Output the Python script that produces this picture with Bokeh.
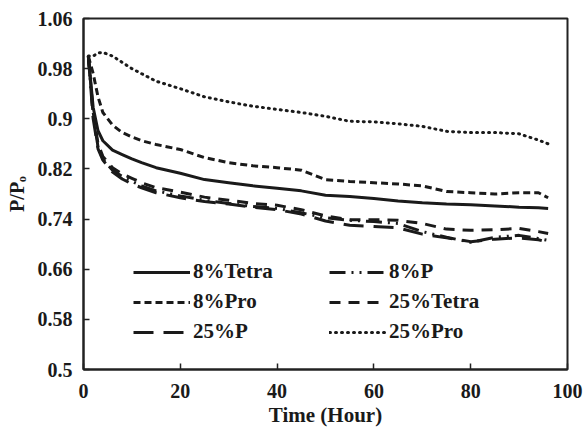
from bokeh.plotting import figure
from bokeh.models import Range1d, FixedTicker, Legend, LegendItem
from bokeh.embed import file_html
from bokeh.resources import INLINE

time = [1, 2, 3, 4, 6, 8, 10, 12, 15, 20, 25, 30, 35, 40, 45, 50, 55, 60, 65, 70, 75, 80, 85, 90, 94, 96]

tetra8 = [1.0, 0.918, 0.881, 0.865, 0.850, 0.843, 0.836, 0.830, 0.822, 0.813, 0.803, 0.798, 0.793, 0.789, 0.785, 0.778,
          0.776, 0.773, 0.769, 0.766, 0.764, 0.763, 0.761, 0.759, 0.758, 0.757]
p8 = [1.0, 0.905, 0.855, 0.835, 0.818, 0.808, 0.800, 0.793, 0.785, 0.777, 0.770, 0.765, 0.760, 0.757, 0.750, 0.742,
      0.738, 0.736, 0.733, 0.720, 0.711, 0.703, 0.711, 0.714, 0.709, 0.706]
pro8 = [1.0, 0.972, 0.935, 0.910, 0.890, 0.878, 0.871, 0.865, 0.859, 0.851, 0.838, 0.830, 0.825, 0.822, 0.818, 0.803,
        0.800, 0.798, 0.796, 0.793, 0.784, 0.782, 0.780, 0.782, 0.782, 0.774]
tetra25 = [1.0, 0.910, 0.860, 0.840, 0.822, 0.812, 0.805, 0.798, 0.790, 0.783, 0.775, 0.770, 0.765, 0.762, 0.755, 0.745,
           0.739, 0.739, 0.738, 0.733, 0.724, 0.722, 0.723, 0.725, 0.720, 0.717]
p25 = [1.0, 0.900, 0.852, 0.834, 0.815, 0.804, 0.796, 0.790, 0.782, 0.774, 0.768, 0.764, 0.759, 0.755, 0.748, 0.737,
       0.730, 0.728, 0.726, 0.716, 0.710, 0.704, 0.708, 0.710, 0.707, 0.703]
pro25 = [1.0, 1.0, 1.005, 1.006, 1.0, 0.990, 0.980, 0.972, 0.960, 0.948, 0.935, 0.927, 0.920, 0.915, 0.910, 0.904,
         0.896, 0.895, 0.892, 0.888, 0.880, 0.878, 0.878, 0.876, 0.866, 0.860]

x_ticks = [0, 20, 40, 60, 80, 100]
y_ticks = [0.5, 0.58, 0.66, 0.74, 0.82, 0.9, 0.98, 1.06]
y_tick_labels = ["0.5", "0.58", "0.66", "0.74", "0.82", "0.9", "0.98", "1.06"]

FONT = "Liberation Serif"
TXT = "#1a1a1a"

p = figure(width=584, height=435, output_backend="svg", toolbar_location=None,
           x_range=Range1d(0, 100), y_range=Range1d(0.5, 1.06),
           min_border_left=83, min_border_right=17, min_border_top=18, min_border_bottom=66)
p.xgrid.visible = False
p.ygrid.visible = False
p.outline_line_color = "#222222"
p.outline_line_width = 2
p.background_fill_color = "white"
p.border_fill_color = "white"

for ax in (p.xaxis[0], p.yaxis[0]):
    ax.major_tick_in = 6
    ax.major_tick_out = 0
    ax.minor_tick_line_color = None
    ax.axis_line_width = 2
    ax.axis_line_color = "#222222"
    ax.major_tick_line_width = 1.5
    ax.major_tick_line_color = "#222222"
    ax.major_label_text_font = FONT
    ax.major_label_text_font_style = "bold"
    ax.major_label_text_font_size = "20px"
    ax.major_label_text_color = TXT
    ax.axis_label_text_font = FONT
    ax.axis_label_text_font_style = "bold"
    ax.axis_label_text_color = TXT

p.xaxis.ticker = FixedTicker(ticks=x_ticks)
p.yaxis.ticker = FixedTicker(ticks=y_ticks)
p.yaxis.major_label_overrides = {v: s for v, s in zip(y_ticks, y_tick_labels)}
p.xaxis.major_label_standoff = 14
p.yaxis.major_label_standoff = 11
p.xaxis.axis_label = "Time (Hour)"
p.xaxis.axis_label_text_font_size = "21px"
p.xaxis.axis_label_standoff = 2
p.yaxis.axis_label = "P/P\u2092"
p.yaxis.axis_label_text_font_size = "20px"
p.yaxis.axis_label_standoff = 7

col = "#1a1a1a"
r1 = p.line(time, tetra8, line_color=col, line_width=3)
r2 = p.line(time, p8, line_color=col, line_width=3, line_dash="16 6 2 6 2 6")
r3 = p.line(time, pro8, line_color=col, line_width=3, line_dash="7 4")
r4 = p.line(time, tetra25, line_color=col, line_width=3, line_dash="11 8")
r5 = p.line(time, p25, line_color=col, line_width=3, line_dash="20 10")
r6 = p.line(time, pro25, line_color=col, line_width=3, line_dash="1 5", line_cap="round")

legend = Legend(items=[
    LegendItem(label="8%Tetra", renderers=[r1]),
    LegendItem(label="8%Pro", renderers=[r3]),
    LegendItem(label="25%P", renderers=[r5]),
    LegendItem(label="8%P", renderers=[r2]),
    LegendItem(label="25%Tetra", renderers=[r4]),
    LegendItem(label="25%Pro", renderers=[r6]),
], location=(50, 25), ncols=2)
legend.padding = 0
legend.margin = 0
legend.spacing = 5
legend.glyph_width = 57
legend.glyph_height = 18
legend.label_height = 18
legend.label_width = 131
legend.label_standoff = 3
legend.border_line_alpha = 0
legend.background_fill_alpha = 0
legend.label_text_font = FONT
legend.label_text_font_style = "bold"
legend.label_text_font_size = "21px"
legend.label_text_color = TXT
legend.label_text_baseline = "middle"
p.add_layout(legend, "center")

open("out.html", "w").write(file_html(p, INLINE))
